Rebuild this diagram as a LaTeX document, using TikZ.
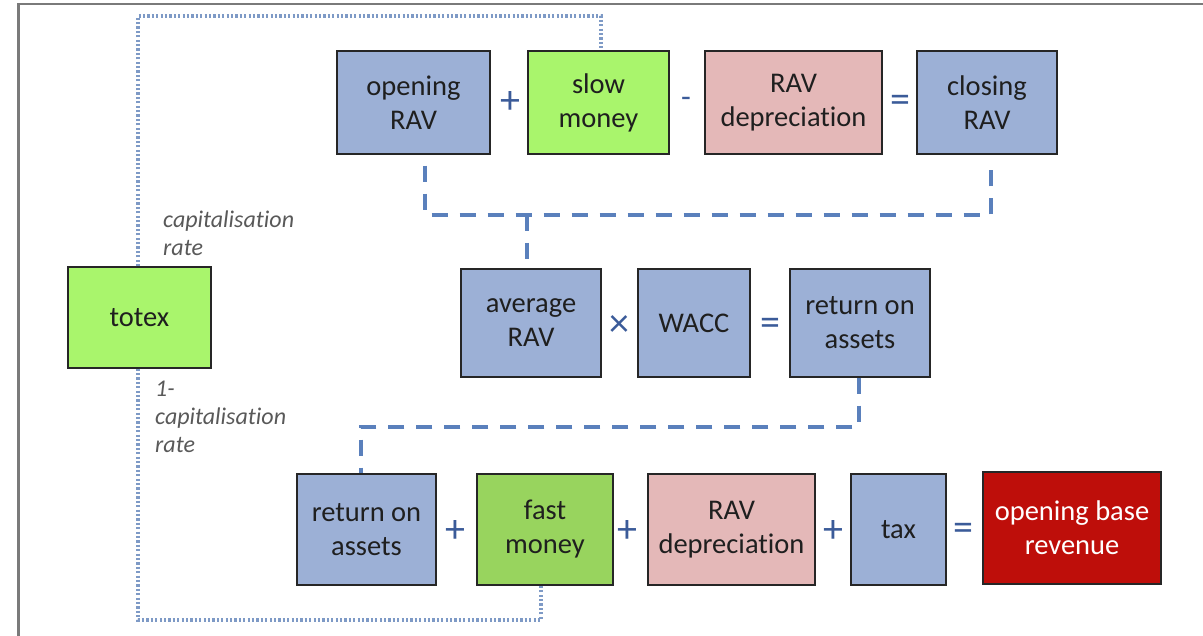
\documentclass[tikz,border=0pt]{standalone}
\usepackage{fontspec}
\setmainfont{Carlito}[Ligatures={NoCommon}]
\begin{document}
\begin{tikzpicture}[x=1pt,y=-1pt,
  box/.style={draw=black!85,line width=1.4pt,inner sep=0pt,align=center,
    font=\fontsize{28.5}{34}\selectfont,text=black!88},
  blu/.style={box,fill=bluefill},
  grn/.style={box,fill=greenfill},
  dgrn/.style={box,fill=dgreenfill},
  pnk/.style={box,fill=pinkfill},
  rd/.style={box,fill=redfill,text=white},
  op/.style={font=\fontsize{40}{40}\selectfont,text=opblue,inner sep=0pt},
  dashconn/.style={draw=dashblue,line width=3.5pt,dash pattern=on 16pt off 12pt},
  dotconn/.style={draw=dotblue,line width=3.2pt,dash pattern=on 2.2pt off 2.2pt},
  lbl/.style={font=\fontsize{24}{28}\selectfont\itshape,text=black!65,align=left,anchor=north west,inner sep=0pt}
]
\definecolor{bluefill}{HTML}{9CB0D6}
\definecolor{greenfill}{HTML}{A9F56C}
\definecolor{dgreenfill}{HTML}{98D45E}
\definecolor{pinkfill}{HTML}{E4B8B8}
\definecolor{redfill}{HTML}{BE0E0A}
\definecolor{opblue}{HTML}{3B5B99}
\definecolor{dashblue}{HTML}{5A80BC}
\definecolor{dotblue}{HTML}{7E9AC6}
\definecolor{framegray}{HTML}{7A7A7A}
\useasboundingbox (0,0) rectangle (1203,636);
% frame
\draw[framegray,line width=2.4pt] (18.5,636) -- (18.5,4) -- (1203,4);

% top row
\node[blu,minimum width=153pt,minimum height=103pt] (orav) at (413.5,102.5) {opening\\RAV};
\node[grn,minimum width=141pt,minimum height=103pt] (slow) at (598.5,102.5) {slow\\money};
\node[pnk,minimum width=177pt,minimum height=103pt] (dep1) at (793.5,102.5) {RAV\\depreciation};
\node[blu,minimum width=140pt,minimum height=103pt] (crav) at (987,102.5) {closing\\RAV};
\node[op] (p1) at (510,103) {+};
\node[op,font=\fontsize{32}{32}\selectfont] (m1) at (686,102) {-};
\node[op] (e1) at (900,104) {=};

% totex
\node[grn,minimum width=143pt,minimum height=101pt] (totex) at (139.5,317.5) {totex};

% middle row
\node[blu,minimum width=140pt,minimum height=108pt] (arav) at (531,323) {average\\RAV};
\node[blu,minimum width=112pt,minimum height=108pt] (wacc) at (694,323) {WACC};
\node[blu,minimum width=140pt,minimum height=108pt] (roa1) at (860,323) {return on\\assets};
\node[op] (x1) at (619,326) {×};
\node[op] (e2) at (770,327) {=};

% bottom row
\node[blu,minimum width=139pt,minimum height=111pt] (roa2) at (366.5,529.5) {return on\\assets};
\node[dgrn,minimum width=136pt,minimum height=111pt] (fast) at (545,529.5) {fast\\money};
\node[pnk,minimum width=167pt,minimum height=111pt] (dep2) at (731.5,529.5) {RAV\\depreciation};
\node[blu,minimum width=95pt,minimum height=111pt] (tax) at (898.5,529.5) {tax};
\node[rd,minimum width=178pt,minimum height=112pt] (obr) at (1072,528) {opening base\\revenue};
\node[op] (p2) at (455,532) {+};
\node[op] (p3) at (627,532) {+};
\node[op] (p4) at (833,532) {+};
\node[op] (e3) at (963,532) {=};

% labels
\node[lbl] (cap1) at (163,211) {capitalisation\\rate};
\node[lbl] (cap2) at (155,381) {1-\\capitalisation\\rate};

% dashed connectors
\coordinate (d1) at (425,215);
\coordinate (d2) at (991,215);
\coordinate (dj) at (527,215);
\draw[dashconn] ([xshift=11.5pt,yshift=-11pt]orav.south) -- (d1) -- (d2) -- ([xshift=4pt,yshift=-8pt]crav.south);
\draw[dashconn] (dj) -- ([xshift=-4pt]arav.north);
\coordinate (d3) at (859,427);
\coordinate (d4) at (361,427);
\draw[dashconn] ([xshift=-1pt]roa1.south) -- (d3) -- (d4) -- ([xshift=-5.5pt]roa2.north);

% dotted connectors
\coordinate (t1) at (138,16);
\coordinate (t2) at (601,16);
\draw[dotconn] ([xshift=-1.5pt]totex.north) -- (t1) -- (t2) -- ([xshift=2.5pt]slow.north);
\coordinate (b1) at (138,620);
\coordinate (b2) at (541,620);
\draw[dotconn] ([xshift=-1.5pt]totex.south) -- (b1) -- (b2) -- ([xshift=-4pt]fast.south);
\end{tikzpicture}
\end{document}
